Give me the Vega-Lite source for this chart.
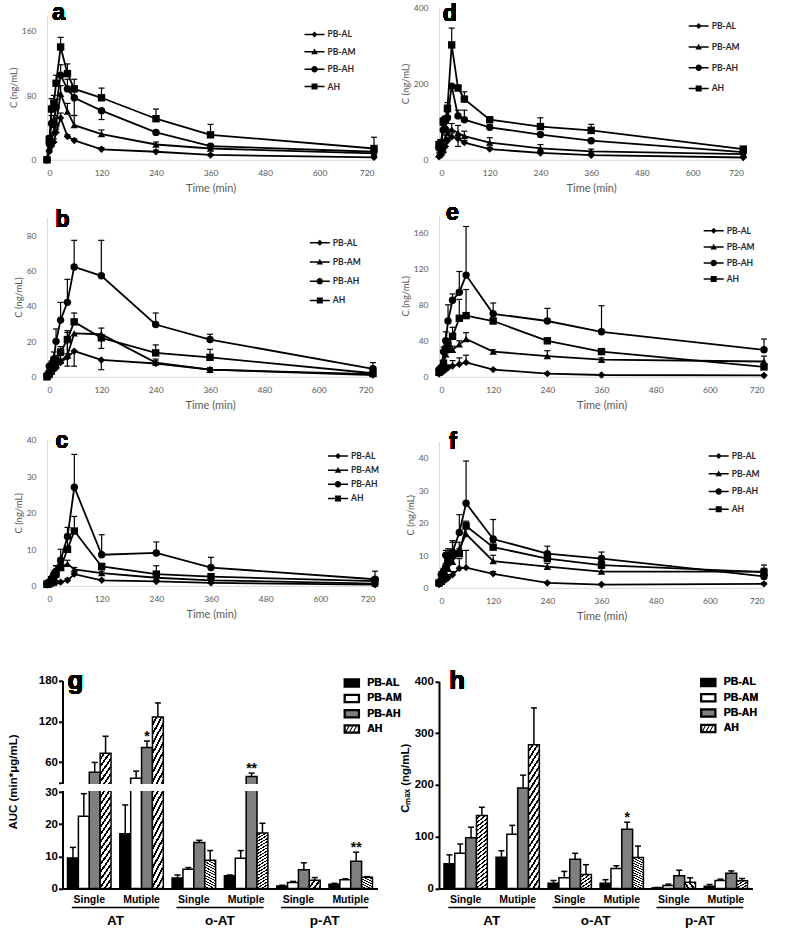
{
"$schema": "https://vega.github.io/schema/vega-lite/v6.json",
"background": "white",
"padding": {"left": 7, "top": 0.8, "right": 0, "bottom": 0},
"datasets": {
"a": [
{"s":"PB-AL","t":0,"c":0,"hi":0},{"s":"PB-AL","t":5,"c":10,"hi":12},{"s":"PB-AL","t":10,"c":17,"hi":20},{"s":"PB-AL","t":15,"c":22,"hi":26},{"s":"PB-AL","t":20,"c":34,"hi":38},{"s":"PB-AL","t":30,"c":52,"hi":58},{"s":"PB-AL","t":45,"c":29,"hi":31},{"s":"PB-AL","t":60,"c":24,"hi":26},{"s":"PB-AL","t":120,"c":13,"hi":15},{"s":"PB-AL","t":240,"c":10,"hi":12},{"s":"PB-AL","t":360,"c":6,"hi":7},{"s":"PB-AL","t":720,"c":3,"hi":4},
{"s":"PB-AM","t":0,"c":0,"hi":0},{"s":"PB-AM","t":5,"c":15,"hi":18},{"s":"PB-AM","t":10,"c":25,"hi":30},{"s":"PB-AM","t":15,"c":35,"hi":40},{"s":"PB-AM","t":20,"c":45,"hi":52},{"s":"PB-AM","t":30,"c":82,"hi":92},{"s":"PB-AM","t":45,"c":60,"hi":70},{"s":"PB-AM","t":60,"c":43,"hi":55},{"s":"PB-AM","t":120,"c":32,"hi":37},{"s":"PB-AM","t":240,"c":19,"hi":22},{"s":"PB-AM","t":360,"c":14,"hi":16},{"s":"PB-AM","t":720,"c":8,"hi":10},
{"s":"PB-AH","t":0,"c":0,"hi":0},{"s":"PB-AH","t":5,"c":20,"hi":26},{"s":"PB-AH","t":10,"c":45,"hi":55},{"s":"PB-AH","t":15,"c":47,"hi":55},{"s":"PB-AH","t":20,"c":65,"hi":75},{"s":"PB-AH","t":30,"c":105,"hi":118},{"s":"PB-AH","t":45,"c":88,"hi":100},{"s":"PB-AH","t":60,"c":77,"hi":92,"lo":55},{"s":"PB-AH","t":120,"c":61,"hi":61,"lo":50},{"s":"PB-AH","t":240,"c":34,"hi":36},{"s":"PB-AH","t":360,"c":17,"hi":19},{"s":"PB-AH","t":720,"c":10,"hi":12},
{"s":"AH","t":0,"c":0,"hi":0},{"s":"AH","t":5,"c":25,"hi":30},{"s":"AH","t":10,"c":63,"hi":76},{"s":"AH","t":15,"c":70,"hi":80},{"s":"AH","t":20,"c":95,"hi":105},{"s":"AH","t":30,"c":140,"hi":152},{"s":"AH","t":45,"c":107,"hi":119},{"s":"AH","t":60,"c":88,"hi":100},{"s":"AH","t":120,"c":77,"hi":89},{"s":"AH","t":240,"c":51,"hi":63},{"s":"AH","t":360,"c":31,"hi":44},{"s":"AH","t":720,"c":14,"hi":28}
],
"d": [
{"s":"PB-AL","t":0,"c":8,"hi":10},{"s":"PB-AL","t":5,"c":12,"hi":15},{"s":"PB-AL","t":10,"c":20,"hi":25},{"s":"PB-AL","t":15,"c":35,"hi":42},{"s":"PB-AL","t":20,"c":50,"hi":58},{"s":"PB-AL","t":30,"c":60,"hi":70},{"s":"PB-AL","t":45,"c":55,"hi":62},{"s":"PB-AL","t":60,"c":45,"hi":50},{"s":"PB-AL","t":120,"c":28,"hi":33},{"s":"PB-AL","t":240,"c":18,"hi":22},{"s":"PB-AL","t":360,"c":12,"hi":15},{"s":"PB-AL","t":720,"c":6,"hi":8},
{"s":"PB-AM","t":0,"c":15,"hi":18},{"s":"PB-AM","t":5,"c":25,"hi":30},{"s":"PB-AM","t":10,"c":40,"hi":48},{"s":"PB-AM","t":15,"c":55,"hi":65},{"s":"PB-AM","t":20,"c":70,"hi":80},{"s":"PB-AM","t":30,"c":80,"hi":95},{"s":"PB-AM","t":45,"c":70,"hi":90,"lo":35},{"s":"PB-AM","t":60,"c":62,"hi":75},{"s":"PB-AM","t":120,"c":45,"hi":58},{"s":"PB-AM","t":240,"c":30,"hi":40},{"s":"PB-AM","t":360,"c":22,"hi":28},{"s":"PB-AM","t":720,"c":15,"hi":18},
{"s":"PB-AH","t":0,"c":30,"hi":35},{"s":"PB-AH","t":5,"c":40,"hi":48},{"s":"PB-AH","t":10,"c":78,"hi":90},{"s":"PB-AH","t":15,"c":80,"hi":95},{"s":"PB-AH","t":20,"c":110,"hi":125},{"s":"PB-AH","t":30,"c":193,"hi":196},{"s":"PB-AH","t":45,"c":115,"hi":130},{"s":"PB-AH","t":60,"c":105,"hi":130},{"s":"PB-AH","t":120,"c":85,"hi":92},{"s":"PB-AH","t":240,"c":66,"hi":72},{"s":"PB-AH","t":360,"c":50,"hi":55},{"s":"PB-AH","t":720,"c":20,"hi":23},
{"s":"AH","t":0,"c":40,"hi":45},{"s":"AH","t":5,"c":45,"hi":52},{"s":"AH","t":10,"c":100,"hi":110},{"s":"AH","t":15,"c":105,"hi":115},{"s":"AH","t":20,"c":135,"hi":150},{"s":"AH","t":30,"c":301,"hi":345},{"s":"AH","t":45,"c":188,"hi":195},{"s":"AH","t":60,"c":159,"hi":178},{"s":"AH","t":120,"c":105,"hi":110},{"s":"AH","t":240,"c":87,"hi":110},{"s":"AH","t":360,"c":77,"hi":93},{"s":"AH","t":720,"c":28,"hi":32}
],
"b": [
{"s":"PB-AL","t":0,"c":0,"hi":0},{"s":"PB-AL","t":5,"c":1,"hi":1.5},{"s":"PB-AL","t":10,"c":2,"hi":3},{"s":"PB-AL","t":15,"c":4,"hi":5},{"s":"PB-AL","t":20,"c":5,"hi":7},{"s":"PB-AL","t":30,"c":8,"hi":10},{"s":"PB-AL","t":45,"c":11,"hi":13},{"s":"PB-AL","t":60,"c":14.5,"hi":14.5,"lo":6},{"s":"PB-AL","t":120,"c":9.5,"hi":9.5,"lo":4},{"s":"PB-AL","t":240,"c":7.5,"hi":9},{"s":"PB-AL","t":360,"c":4,"hi":5},{"s":"PB-AL","t":720,"c":1,"hi":1.5},
{"s":"PB-AM","t":0,"c":0,"hi":0},{"s":"PB-AM","t":5,"c":1,"hi":1.5},{"s":"PB-AM","t":10,"c":3,"hi":4},{"s":"PB-AM","t":15,"c":6,"hi":8},{"s":"PB-AM","t":20,"c":7,"hi":9},{"s":"PB-AM","t":30,"c":9,"hi":12},{"s":"PB-AM","t":45,"c":12,"hi":26},{"s":"PB-AM","t":60,"c":24.5,"hi":24.5},{"s":"PB-AM","t":120,"c":24,"hi":27.5},{"s":"PB-AM","t":240,"c":8,"hi":10},{"s":"PB-AM","t":360,"c":4,"hi":5},{"s":"PB-AM","t":720,"c":1.5,"hi":2},
{"s":"PB-AH","t":0,"c":1,"hi":1},{"s":"PB-AH","t":5,"c":6,"hi":7},{"s":"PB-AH","t":10,"c":7,"hi":9},{"s":"PB-AH","t":15,"c":10,"hi":14},{"s":"PB-AH","t":20,"c":20,"hi":27},{"s":"PB-AH","t":30,"c":32,"hi":42},{"s":"PB-AH","t":45,"c":42,"hi":55},{"s":"PB-AH","t":60,"c":62,"hi":77},{"s":"PB-AH","t":120,"c":57,"hi":77},{"s":"PB-AH","t":240,"c":29.5,"hi":36},{"s":"PB-AH","t":360,"c":21,"hi":24},{"s":"PB-AH","t":720,"c":4.5,"hi":8},
{"s":"AH","t":0,"c":0,"hi":0},{"s":"AH","t":5,"c":2,"hi":3},{"s":"AH","t":10,"c":5,"hi":7},{"s":"AH","t":15,"c":8,"hi":10},{"s":"AH","t":20,"c":9,"hi":12},{"s":"AH","t":30,"c":14,"hi":17},{"s":"AH","t":45,"c":21,"hi":25,"lo":6},{"s":"AH","t":60,"c":31,"hi":36},{"s":"AH","t":120,"c":22,"hi":22,"lo":16},{"s":"AH","t":240,"c":13.5,"hi":18},{"s":"AH","t":360,"c":11,"hi":15.5},{"s":"AH","t":720,"c":2,"hi":3}
],
"e": [
{"s":"PB-AL","t":0,"c":3,"hi":4},{"s":"PB-AL","t":5,"c":5,"hi":6},{"s":"PB-AL","t":10,"c":6,"hi":8},{"s":"PB-AL","t":15,"c":8,"hi":10},{"s":"PB-AL","t":20,"c":10,"hi":13},{"s":"PB-AL","t":30,"c":12,"hi":18},{"s":"PB-AL","t":45,"c":14,"hi":21},{"s":"PB-AL","t":60,"c":16,"hi":24},{"s":"PB-AL","t":120,"c":8,"hi":9},{"s":"PB-AL","t":240,"c":3.5,"hi":4},{"s":"PB-AL","t":360,"c":2,"hi":2.5},{"s":"PB-AL","t":720,"c":1.5,"hi":2},
{"s":"PB-AM","t":0,"c":5,"hi":6},{"s":"PB-AM","t":5,"c":8,"hi":10},{"s":"PB-AM","t":10,"c":12,"hi":15},{"s":"PB-AM","t":15,"c":25,"hi":30},{"s":"PB-AM","t":20,"c":30,"hi":35},{"s":"PB-AM","t":30,"c":30,"hi":34},{"s":"PB-AM","t":45,"c":36,"hi":40},{"s":"PB-AM","t":60,"c":42,"hi":49},{"s":"PB-AM","t":120,"c":28,"hi":30},{"s":"PB-AM","t":240,"c":23,"hi":29},{"s":"PB-AM","t":360,"c":19,"hi":21},{"s":"PB-AM","t":720,"c":17,"hi":23},
{"s":"PB-AH","t":0,"c":8,"hi":10},{"s":"PB-AH","t":5,"c":10,"hi":13},{"s":"PB-AH","t":10,"c":28,"hi":33},{"s":"PB-AH","t":15,"c":40,"hi":50},{"s":"PB-AH","t":20,"c":62,"hi":80},{"s":"PB-AH","t":30,"c":85,"hi":92},{"s":"PB-AH","t":45,"c":94,"hi":117},{"s":"PB-AH","t":60,"c":113,"hi":167},{"s":"PB-AH","t":120,"c":70,"hi":82},{"s":"PB-AH","t":240,"c":62,"hi":76},{"s":"PB-AH","t":360,"c":50,"hi":79},{"s":"PB-AH","t":720,"c":30,"hi":42},
{"s":"AH","t":0,"c":5,"hi":6},{"s":"AH","t":5,"c":8,"hi":10},{"s":"AH","t":10,"c":15,"hi":18},{"s":"AH","t":15,"c":30,"hi":35},{"s":"AH","t":20,"c":35,"hi":42},{"s":"AH","t":30,"c":45,"hi":55},{"s":"AH","t":45,"c":65,"hi":86},{"s":"AH","t":60,"c":68,"hi":97},{"s":"AH","t":120,"c":62,"hi":65},{"s":"AH","t":240,"c":40,"hi":42},{"s":"AH","t":360,"c":28,"hi":30},{"s":"AH","t":720,"c":11,"hi":13}
],
"c": [
{"s":"PB-AL","t":0,"c":0.2,"hi":0.2},{"s":"PB-AL","t":5,"c":0.3,"hi":0.4},{"s":"PB-AL","t":10,"c":0.5,"hi":0.6},{"s":"PB-AL","t":15,"c":0.7,"hi":0.9},{"s":"PB-AL","t":20,"c":0.9,"hi":1.1},{"s":"PB-AL","t":30,"c":1,"hi":1.3},{"s":"PB-AL","t":45,"c":1.5,"hi":2},{"s":"PB-AL","t":60,"c":3.2,"hi":4},{"s":"PB-AL","t":120,"c":1.5,"hi":1.8},{"s":"PB-AL","t":240,"c":1.2,"hi":1.4},{"s":"PB-AL","t":360,"c":0.8,"hi":1},{"s":"PB-AL","t":720,"c":0.3,"hi":0.4},
{"s":"PB-AM","t":0,"c":0.3,"hi":0.3},{"s":"PB-AM","t":5,"c":0.5,"hi":0.6},{"s":"PB-AM","t":10,"c":1,"hi":1.3},{"s":"PB-AM","t":15,"c":2,"hi":2.5},{"s":"PB-AM","t":20,"c":3,"hi":4},{"s":"PB-AM","t":30,"c":5,"hi":6},{"s":"PB-AM","t":45,"c":6,"hi":7},{"s":"PB-AM","t":60,"c":4.5,"hi":5},{"s":"PB-AM","t":120,"c":3.5,"hi":4},{"s":"PB-AM","t":240,"c":2.2,"hi":2.6},{"s":"PB-AM","t":360,"c":1.5,"hi":1.8},{"s":"PB-AM","t":720,"c":0.6,"hi":0.8},
{"s":"PB-AH","t":0,"c":0.5,"hi":0.5},{"s":"PB-AH","t":5,"c":1,"hi":1.2},{"s":"PB-AH","t":10,"c":2,"hi":2.5},{"s":"PB-AH","t":15,"c":3,"hi":4},{"s":"PB-AH","t":20,"c":4,"hi":5.5},{"s":"PB-AH","t":30,"c":7,"hi":10},{"s":"PB-AH","t":45,"c":13.5,"hi":16},{"s":"PB-AH","t":60,"c":27,"hi":36},{"s":"PB-AH","t":120,"c":8.5,"hi":14},{"s":"PB-AH","t":240,"c":9,"hi":12},{"s":"PB-AH","t":360,"c":5,"hi":7.8},{"s":"PB-AH","t":720,"c":1.8,"hi":4},
{"s":"AH","t":0,"c":0.5,"hi":0.5},{"s":"AH","t":5,"c":0.8,"hi":1},{"s":"AH","t":10,"c":1.5,"hi":2},{"s":"AH","t":15,"c":2.5,"hi":3.5},{"s":"AH","t":20,"c":3.5,"hi":5.5},{"s":"AH","t":30,"c":5,"hi":6.5},{"s":"AH","t":45,"c":10,"hi":13},{"s":"AH","t":60,"c":15,"hi":19},{"s":"AH","t":120,"c":5.3,"hi":6},{"s":"AH","t":240,"c":3.2,"hi":5.5},{"s":"AH","t":360,"c":2.5,"hi":3},{"s":"AH","t":720,"c":1.3,"hi":1.6}
],
"f": [
{"s":"PB-AL","t":0,"c":1,"hi":1.2},{"s":"PB-AL","t":5,"c":1.5,"hi":2},{"s":"PB-AL","t":10,"c":2,"hi":2.5},{"s":"PB-AL","t":15,"c":2.5,"hi":3},{"s":"PB-AL","t":20,"c":3,"hi":4},{"s":"PB-AL","t":30,"c":4,"hi":5},{"s":"PB-AL","t":45,"c":6,"hi":9},{"s":"PB-AL","t":60,"c":6.2,"hi":11.5},{"s":"PB-AL","t":120,"c":4.3,"hi":5},{"s":"PB-AL","t":240,"c":1.5,"hi":1.8},{"s":"PB-AL","t":360,"c":1,"hi":1.2},{"s":"PB-AL","t":720,"c":1.2,"hi":1.5},
{"s":"PB-AM","t":0,"c":1.5,"hi":2},{"s":"PB-AM","t":5,"c":2,"hi":2.5},{"s":"PB-AM","t":10,"c":3,"hi":4},{"s":"PB-AM","t":15,"c":4.5,"hi":5.5},{"s":"PB-AM","t":20,"c":6,"hi":7.5},{"s":"PB-AM","t":30,"c":8,"hi":10},{"s":"PB-AM","t":45,"c":12,"hi":14},{"s":"PB-AM","t":60,"c":16.5,"hi":20},{"s":"PB-AM","t":120,"c":8.2,"hi":10},{"s":"PB-AM","t":240,"c":6.5,"hi":7.5},{"s":"PB-AM","t":360,"c":5,"hi":6},{"s":"PB-AM","t":720,"c":5,"hi":6},
{"s":"PB-AH","t":0,"c":1.5,"hi":2},{"s":"PB-AH","t":5,"c":4,"hi":5},{"s":"PB-AH","t":10,"c":5,"hi":6},{"s":"PB-AH","t":15,"c":10,"hi":11.5},{"s":"PB-AH","t":20,"c":10,"hi":12},{"s":"PB-AH","t":30,"c":11,"hi":14},{"s":"PB-AH","t":45,"c":17,"hi":22.5},{"s":"PB-AH","t":60,"c":26,"hi":39},{"s":"PB-AH","t":120,"c":15,"hi":21},{"s":"PB-AH","t":240,"c":10.5,"hi":12.8},{"s":"PB-AH","t":360,"c":9,"hi":11},{"s":"PB-AH","t":720,"c":3.5,"hi":7},
{"s":"AH","t":0,"c":1.5,"hi":2},{"s":"AH","t":5,"c":2,"hi":2.5},{"s":"AH","t":10,"c":4,"hi":5},{"s":"AH","t":15,"c":6,"hi":7.5},{"s":"AH","t":20,"c":8,"hi":10},{"s":"AH","t":30,"c":10,"hi":14.5},{"s":"AH","t":45,"c":10.5,"hi":12},{"s":"AH","t":60,"c":19,"hi":20.5},{"s":"AH","t":120,"c":12.5,"hi":14},{"s":"AH","t":240,"c":9,"hi":10},{"s":"AH","t":360,"c":7,"hi":8},{"s":"AH","t":720,"c":4.8,"hi":5.5}
],
"auc": [
{"k":"AT Single","s":"PB-AL","v":9.5,"hi":12.8},{"k":"AT Single","s":"PB-AM","v":22.5,"hi":29.5},{"k":"AT Single","s":"PB-AH","v":45,"hi":59.5},{"k":"AT Single","s":"AH","v":73,"hi":98},
{"k":"AT Mutiple","s":"PB-AL","v":17,"hi":26},{"k":"AT Mutiple","s":"PB-AM","v":36.4,"hi":46.7},{"k":"AT Mutiple","s":"PB-AH","v":81.6,"hi":91,"sig":"*"},{"k":"AT Mutiple","s":"AH","v":126.4,"hi":147},
{"k":"o-AT Single","s":"PB-AL","v":3.3,"hi":4.2},{"k":"o-AT Single","s":"PB-AM","v":6,"hi":6.5},{"k":"o-AT Single","s":"PB-AH","v":14.3,"hi":15},{"k":"o-AT Single","s":"AH","v":8.8,"hi":11.8},
{"k":"o-AT Mutiple","s":"PB-AL","v":4,"hi":4.2},{"k":"o-AT Mutiple","s":"PB-AM","v":9.4,"hi":11.8},{"k":"o-AT Mutiple","s":"PB-AH","v":38.8,"hi":43.8,"sig":"**"},{"k":"o-AT Mutiple","s":"AH","v":17.3,"hi":20.3},
{"k":"p-AT Single","s":"PB-AL","v":0.8,"hi":1},{"k":"p-AT Single","s":"PB-AM","v":1.9,"hi":2.2},{"k":"p-AT Single","s":"PB-AH","v":5.8,"hi":8},{"k":"p-AT Single","s":"AH","v":2.6,"hi":3.4},
{"k":"p-AT Mutiple","s":"PB-AL","v":1.3,"hi":1.6},{"k":"p-AT Mutiple","s":"PB-AM","v":2.7,"hi":3},{"k":"p-AT Mutiple","s":"PB-AH","v":8.5,"hi":11.3,"sig":"**"},{"k":"p-AT Mutiple","s":"AH","v":3.5,"hi":3.7}
],
"cmax": [
{"k":"AT Single","s":"PB-AL","v":47.7,"hi":65},{"k":"AT Single","s":"PB-AM","v":68,"hi":86},{"k":"AT Single","s":"PB-AH","v":98,"hi":118.5},{"k":"AT Single","s":"AH","v":141,"hi":157},
{"k":"AT Mutiple","s":"PB-AL","v":60.5,"hi":73},{"k":"AT Mutiple","s":"PB-AM","v":105,"hi":122},{"k":"AT Mutiple","s":"PB-AH","v":194,"hi":219},{"k":"AT Mutiple","s":"AH","v":277.6,"hi":349},
{"k":"o-AT Single","s":"PB-AL","v":10.3,"hi":15.5},{"k":"o-AT Single","s":"PB-AM","v":20.6,"hi":33},{"k":"o-AT Single","s":"PB-AH","v":56.7,"hi":68},{"k":"o-AT Single","s":"AH","v":27,"hi":46},
{"k":"o-AT Mutiple","s":"PB-AL","v":10.3,"hi":17},{"k":"o-AT Mutiple","s":"PB-AM","v":38.6,"hi":44},{"k":"o-AT Mutiple","s":"PB-AH","v":114.6,"hi":128,"sig":"*"},{"k":"o-AT Mutiple","s":"AH","v":60,"hi":82},
{"k":"p-AT Single","s":"PB-AL","v":1.3,"hi":2},{"k":"p-AT Single","s":"PB-AM","v":5.8,"hi":8.4},{"k":"p-AT Single","s":"PB-AH","v":24.5,"hi":35.4},{"k":"p-AT Single","s":"AH","v":12.2,"hi":20.6},
{"k":"p-AT Mutiple","s":"PB-AL","v":4.5,"hi":7.7},{"k":"p-AT Mutiple","s":"PB-AM","v":15.5,"hi":18},{"k":"p-AT Mutiple","s":"PB-AH","v":29.6,"hi":34},{"k":"p-AT Mutiple","s":"AH","v":14.8,"hi":19.3}
],
"doses": [
{"k":"AT Single","d":"Single"},{"k":"AT Mutiple","d":"Mutiple"},{"k":"o-AT Single","d":"Single"},{"k":"o-AT Mutiple","d":"Mutiple"},{"k":"p-AT Single","d":"Single"},{"k":"p-AT Mutiple","d":"Mutiple"}
],
"groups": [
{"g":"AT","f":"AT Single","l":"AT Mutiple"},{"g":"o-AT","f":"o-AT Single","l":"o-AT Mutiple"},{"g":"p-AT","f":"p-AT Single","l":"p-AT Mutiple"}
]
},
"columns": 2,
"bounds": "flush",
"align": "each",
"spacing": {"row": 20, "column": 61},
"resolve": {"scale": {"shape": "independent", "fill": "independent", "xOffset": "independent"}, "legend": {"shape": "independent", "fill": "independent"}},
"concat": [
{"width":327,"height":153,
"data":{"name":"a"},
"encoding":{"x":{"field":"t","type":"quantitative","scale":{"domain":[0,720],"nice":false},"axis":{"values":[0,120,240,360,480,600,720],"title":"Time (min)"}}},
"layer":[
{"mark":{"type":"line","color":"black","strokeWidth":1.8},"encoding":{"y":{"field":"c","type":"quantitative","scale":{"domain":[0,180],"range":[153,8],"nice":false},"axis":{"values":[0,20,40,60,80,100,120,140,160,180],"title":"C (ng/mL)","labelOverlap":false}},"detail":{"field":"s"}}},
{"mark":{"type":"rule","color":"black","strokeWidth":1.2},"encoding":{"y":{"field":"c","type":"quantitative"},"y2":{"field":"hi"}}},
{"transform":[{"filter":"isValid(datum.lo)"}],"mark":{"type":"rule","color":"black","strokeWidth":1.2},"encoding":{"y":{"field":"lo","type":"quantitative"},"y2":{"field":"c"}}},
{"transform":[{"filter":"datum.hi > datum.c"}],"mark":{"type":"point","shape":"stroke","size":36,"filled":false,"color":"black","strokeWidth":1.2,"opacity":1},"encoding":{"y":{"field":"hi","type":"quantitative"}}},
{"transform":[{"filter":"isValid(datum.lo)"}],"mark":{"type":"point","shape":"stroke","size":36,"filled":false,"color":"black","strokeWidth":1.2,"opacity":1},"encoding":{"y":{"field":"lo","type":"quantitative"}}},
{"mark":{"type":"point","filled":true,"color":"black","opacity":1,"size":55},"encoding":{"y":{"field":"c","type":"quantitative"},"shape":{"field":"s","type":"nominal","scale":{"domain":["PB-AL","PB-AM","PB-AH","AH"],"range":["diamond","triangle-up","circle","square"]},"legend":null}}},
{"mark":{"type":"text","text":"a","font":"Liberation Sans","fontSize":23,"fontWeight":"bold","align":"left","baseline":"alphabetic"},"encoding":{"x":{"datum":11.4},"y":{"datum":173.8}}},
{"transform":[{"filter":"false"}],"mark":{"type":"point","filled":true,"color":"black","opacity":1,"size":100},"encoding":{"shape":{"field":"s","type":"nominal","scale":{"domain":["PB-AL","PB-AM","PB-AH","AH"],"range":["M-2,-0.15H2V0.15H-2Z M0,-0.6L0.6,0L0,0.6L-0.6,0Z","M-2,-0.15H2V0.15H-2Z M0,-0.65L0.65,0.5L-0.65,0.5Z","M-2,-0.15H2V0.15H-2Z M-0.65,0A0.65,0.65 0 1,1 0.65,0A0.65,0.65 0 1,1 -0.65,0Z","M-2,-0.15H2V0.15H-2Z M-0.6,-0.6H0.6V0.6H-0.6Z"]},"legend":{"orient":"none","legendX":261.5,"legendY":21.6,"rowPadding":4.4,"title":null}}}}
],
"resolve":{"scale":{"shape":"independent"},"legend":{"shape":"independent"}}},
{"width":304.3,"height":153,
"data":{"name":"d"},
"encoding":{"x":{"field":"t","type":"quantitative","scale":{"domain":[0,720],"nice":false},"axis":{"values":[0,120,240,360,480,600,720],"title":"Time (min)"}}},
"layer":[
{"mark":{"type":"line","color":"black","strokeWidth":1.8},"encoding":{"y":{"field":"c","type":"quantitative","scale":{"domain":[0,400],"range":[153,0.3],"nice":false},"axis":{"values":[0,50,100,150,200,250,300,350,400],"title":"C (ng/mL)","labelOverlap":false}},"detail":{"field":"s"}}},
{"mark":{"type":"rule","color":"black","strokeWidth":1.2},"encoding":{"y":{"field":"c","type":"quantitative"},"y2":{"field":"hi"}}},
{"transform":[{"filter":"isValid(datum.lo)"}],"mark":{"type":"rule","color":"black","strokeWidth":1.2},"encoding":{"y":{"field":"lo","type":"quantitative"},"y2":{"field":"c"}}},
{"transform":[{"filter":"datum.hi > datum.c"}],"mark":{"type":"point","shape":"stroke","size":36,"filled":false,"color":"black","strokeWidth":1.2,"opacity":1},"encoding":{"y":{"field":"hi","type":"quantitative"}}},
{"transform":[{"filter":"isValid(datum.lo)"}],"mark":{"type":"point","shape":"stroke","size":36,"filled":false,"color":"black","strokeWidth":1.2,"opacity":1},"encoding":{"y":{"field":"lo","type":"quantitative"}}},
{"mark":{"type":"point","filled":true,"color":"black","opacity":1,"size":55},"encoding":{"y":{"field":"c","type":"quantitative"},"shape":{"field":"s","type":"nominal","scale":{"domain":["PB-AL","PB-AM","PB-AH","AH"],"range":["diamond","triangle-up","circle","square"]},"legend":null}}},
{"mark":{"type":"text","text":"d","font":"Liberation Sans","fontSize":23,"fontWeight":"bold","align":"left","baseline":"alphabetic"},"encoding":{"x":{"datum":8.75},"y":{"datum":364.8}}},
{"transform":[{"filter":"false"}],"mark":{"type":"point","filled":true,"color":"black","opacity":1,"size":100},"encoding":{"shape":{"field":"s","type":"nominal","scale":{"domain":["PB-AL","PB-AM","PB-AH","AH"],"range":["M-2,-0.15H2V0.15H-2Z M0,-0.6L0.6,0L0,0.6L-0.6,0Z","M-2,-0.15H2V0.15H-2Z M0,-0.65L0.65,0.5L-0.65,0.5Z","M-2,-0.15H2V0.15H-2Z M-0.65,0A0.65,0.65 0 1,1 0.65,0A0.65,0.65 0 1,1 -0.65,0Z","M-2,-0.15H2V0.15H-2Z M-0.6,-0.6H0.6V0.6H-0.6Z"]},"legend":{"orient":"none","legendX":253.7,"legendY":13.3,"rowPadding":7.8,"title":null}}}}
],
"resolve":{"scale":{"shape":"independent"},"legend":{"shape":"independent"}}},
{"width":326,"height":197,
"data":{"name":"b"},
"encoding":{"x":{"field":"t","type":"quantitative","scale":{"domain":[0,720],"nice":false},"axis":{"values":[0,120,240,360,480,600,720],"title":"Time (min)"}}},
"layer":[
{"mark":{"type":"line","color":"black","strokeWidth":1.8},"encoding":{"y":{"field":"c","type":"quantitative","scale":{"domain":[0,90],"range":[197,37.5],"nice":false},"axis":{"values":[0,10,20,30,40,50,60,70,80,90],"title":"C (ng/mL)","labelOverlap":false}},"detail":{"field":"s"}}},
{"mark":{"type":"rule","color":"black","strokeWidth":1.2},"encoding":{"y":{"field":"c","type":"quantitative"},"y2":{"field":"hi"}}},
{"transform":[{"filter":"isValid(datum.lo)"}],"mark":{"type":"rule","color":"black","strokeWidth":1.2},"encoding":{"y":{"field":"lo","type":"quantitative"},"y2":{"field":"c"}}},
{"transform":[{"filter":"datum.hi > datum.c"}],"mark":{"type":"point","shape":"stroke","size":36,"filled":false,"color":"black","strokeWidth":1.2,"opacity":1},"encoding":{"y":{"field":"hi","type":"quantitative"}}},
{"transform":[{"filter":"isValid(datum.lo)"}],"mark":{"type":"point","shape":"stroke","size":36,"filled":false,"color":"black","strokeWidth":1.2,"opacity":1},"encoding":{"y":{"field":"lo","type":"quantitative"}}},
{"mark":{"type":"point","filled":true,"color":"black","opacity":1,"size":55},"encoding":{"y":{"field":"c","type":"quantitative"},"shape":{"field":"s","type":"nominal","scale":{"domain":["PB-AL","PB-AM","PB-AH","AH"],"range":["diamond","triangle-up","circle","square"]},"legend":null}}},
{"mark":{"type":"text","text":"b","font":"Liberation Sans","fontSize":23,"fontWeight":"bold","align":"left","baseline":"alphabetic"},"encoding":{"x":{"datum":18.8},"y":{"datum":84.5}}},
{"transform":[{"filter":"false"}],"mark":{"type":"point","filled":true,"color":"black","opacity":1,"size":100},"encoding":{"shape":{"field":"s","type":"nominal","scale":{"domain":["PB-AL","PB-AM","PB-AH","AH"],"range":["M-2,-0.15H2V0.15H-2Z M0,-0.6L0.6,0L0,0.6L-0.6,0Z","M-2,-0.15H2V0.15H-2Z M0,-0.65L0.65,0.5L-0.65,0.5Z","M-2,-0.15H2V0.15H-2Z M-0.65,0A0.65,0.65 0 1,1 0.65,0A0.65,0.65 0 1,1 -0.65,0Z","M-2,-0.15H2V0.15H-2Z M-0.6,-0.6H0.6V0.6H-0.6Z"]},"legend":{"orient":"none","legendX":266.8,"legendY":57,"rowPadding":6.2,"title":null}}}}
],
"resolve":{"scale":{"shape":"independent"},"legend":{"shape":"independent"}}},
{"width":325,"height":197,
"data":{"name":"e"},
"encoding":{"x":{"field":"t","type":"quantitative","scale":{"domain":[0,720],"nice":false},"axis":{"values":[0,120,240,360,480,600,720],"title":"Time (min)"}}},
"layer":[
{"mark":{"type":"line","color":"black","strokeWidth":1.8},"encoding":{"y":{"field":"c","type":"quantitative","scale":{"domain":[0,180],"range":[197,35],"nice":false},"axis":{"values":[0,20,40,60,80,100,120,140,160,180],"title":"C (ng/mL)","labelOverlap":false}},"detail":{"field":"s"}}},
{"mark":{"type":"rule","color":"black","strokeWidth":1.2},"encoding":{"y":{"field":"c","type":"quantitative"},"y2":{"field":"hi"}}},
{"transform":[{"filter":"isValid(datum.lo)"}],"mark":{"type":"rule","color":"black","strokeWidth":1.2},"encoding":{"y":{"field":"lo","type":"quantitative"},"y2":{"field":"c"}}},
{"transform":[{"filter":"datum.hi > datum.c"}],"mark":{"type":"point","shape":"stroke","size":36,"filled":false,"color":"black","strokeWidth":1.2,"opacity":1},"encoding":{"y":{"field":"hi","type":"quantitative"}}},
{"transform":[{"filter":"isValid(datum.lo)"}],"mark":{"type":"point","shape":"stroke","size":36,"filled":false,"color":"black","strokeWidth":1.2,"opacity":1},"encoding":{"y":{"field":"lo","type":"quantitative"}}},
{"mark":{"type":"point","filled":true,"color":"black","opacity":1,"size":55},"encoding":{"y":{"field":"c","type":"quantitative"},"shape":{"field":"s","type":"nominal","scale":{"domain":["PB-AL","PB-AM","PB-AH","AH"],"range":["diamond","triangle-up","circle","square"]},"legend":null}}},
{"mark":{"type":"text","text":"e","font":"Liberation Sans","fontSize":23,"fontWeight":"bold","align":"left","baseline":"alphabetic"},"encoding":{"x":{"datum":15.5},"y":{"datum":174.4}}},
{"transform":[{"filter":"false"}],"mark":{"type":"point","filled":true,"color":"black","opacity":1,"size":100},"encoding":{"shape":{"field":"s","type":"nominal","scale":{"domain":["PB-AL","PB-AM","PB-AH","AH"],"range":["M-2,-0.15H2V0.15H-2Z M0,-0.6L0.6,0L0,0.6L-0.6,0Z","M-2,-0.15H2V0.15H-2Z M0,-0.65L0.65,0.5L-0.65,0.5Z","M-2,-0.15H2V0.15H-2Z M-0.65,0A0.65,0.65 0 1,1 0.65,0A0.65,0.65 0 1,1 -0.65,0Z","M-2,-0.15H2V0.15H-2Z M-0.6,-0.6H0.6V0.6H-0.6Z"]},"legend":{"orient":"none","legendX":268.7,"legendY":45,"rowPadding":3.1,"title":null}}}}
],
"resolve":{"scale":{"shape":"independent"},"legend":{"shape":"independent"}}},
{"width":328,"height":189,
"data":{"name":"c"},
"encoding":{"x":{"field":"t","type":"quantitative","scale":{"domain":[0,720],"nice":false},"axis":{"values":[0,120,240,360,480,600,720],"title":"Time (min)"}}},
"layer":[
{"mark":{"type":"line","color":"black","strokeWidth":1.8},"encoding":{"y":{"field":"c","type":"quantitative","scale":{"domain":[0,40],"range":[189,43],"nice":false},"axis":{"values":[0,5,10,15,20,25,30,35,40],"title":"C (ng/mL)","labelOverlap":false}},"detail":{"field":"s"}}},
{"mark":{"type":"rule","color":"black","strokeWidth":1.2},"encoding":{"y":{"field":"c","type":"quantitative"},"y2":{"field":"hi"}}},
{"transform":[{"filter":"isValid(datum.lo)"}],"mark":{"type":"rule","color":"black","strokeWidth":1.2},"encoding":{"y":{"field":"lo","type":"quantitative"},"y2":{"field":"c"}}},
{"transform":[{"filter":"datum.hi > datum.c"}],"mark":{"type":"point","shape":"stroke","size":36,"filled":false,"color":"black","strokeWidth":1.2,"opacity":1},"encoding":{"y":{"field":"hi","type":"quantitative"}}},
{"transform":[{"filter":"isValid(datum.lo)"}],"mark":{"type":"point","shape":"stroke","size":36,"filled":false,"color":"black","strokeWidth":1.2,"opacity":1},"encoding":{"y":{"field":"lo","type":"quantitative"}}},
{"mark":{"type":"point","filled":true,"color":"black","opacity":1,"size":55},"encoding":{"y":{"field":"c","type":"quantitative"},"shape":{"field":"s","type":"nominal","scale":{"domain":["PB-AL","PB-AM","PB-AH","AH"],"range":["diamond","triangle-up","circle","square"]},"legend":null}}},
{"mark":{"type":"text","text":"c","font":"Liberation Sans","fontSize":23,"fontWeight":"bold","align":"left","baseline":"alphabetic"},"encoding":{"x":{"datum":18.7},"y":{"datum":37.7}}},
{"transform":[{"filter":"false"}],"mark":{"type":"point","filled":true,"color":"black","opacity":1,"size":100},"encoding":{"shape":{"field":"s","type":"nominal","scale":{"domain":["PB-AL","PB-AM","PB-AH","AH"],"range":["M-2,-0.15H2V0.15H-2Z M0,-0.6L0.6,0L0,0.6L-0.6,0Z","M-2,-0.15H2V0.15H-2Z M0,-0.65L0.65,0.5L-0.65,0.5Z","M-2,-0.15H2V0.15H-2Z M-0.65,0A0.65,0.65 0 1,1 0.65,0A0.65,0.65 0 1,1 -0.65,0Z","M-2,-0.15H2V0.15H-2Z M-0.6,-0.6H0.6V0.6H-0.6Z"]},"legend":{"orient":"none","legendX":285,"legendY":53.3,"rowPadding":1.1,"title":null}}}}
],
"resolve":{"scale":{"shape":"independent"},"legend":{"shape":"independent"}}},
{"width":325,"height":191,
"data":{"name":"f"},
"encoding":{"x":{"field":"t","type":"quantitative","scale":{"domain":[0,720],"nice":false},"axis":{"values":[0,120,240,360,480,600,720],"title":"Time (min)"}}},
"layer":[
{"mark":{"type":"line","color":"black","strokeWidth":1.8},"encoding":{"y":{"field":"c","type":"quantitative","scale":{"domain":[0,45],"range":[191,44.7],"nice":false},"axis":{"values":[0,5,10,15,20,25,30,35,40,45],"title":"C (ng/mL)","labelOverlap":false}},"detail":{"field":"s"}}},
{"mark":{"type":"rule","color":"black","strokeWidth":1.2},"encoding":{"y":{"field":"c","type":"quantitative"},"y2":{"field":"hi"}}},
{"transform":[{"filter":"isValid(datum.lo)"}],"mark":{"type":"rule","color":"black","strokeWidth":1.2},"encoding":{"y":{"field":"lo","type":"quantitative"},"y2":{"field":"c"}}},
{"transform":[{"filter":"datum.hi > datum.c"}],"mark":{"type":"point","shape":"stroke","size":36,"filled":false,"color":"black","strokeWidth":1.2,"opacity":1},"encoding":{"y":{"field":"hi","type":"quantitative"}}},
{"transform":[{"filter":"isValid(datum.lo)"}],"mark":{"type":"point","shape":"stroke","size":36,"filled":false,"color":"black","strokeWidth":1.2,"opacity":1},"encoding":{"y":{"field":"lo","type":"quantitative"}}},
{"mark":{"type":"point","filled":true,"color":"black","opacity":1,"size":55},"encoding":{"y":{"field":"c","type":"quantitative"},"shape":{"field":"s","type":"nominal","scale":{"domain":["PB-AL","PB-AM","PB-AH","AH"],"range":["diamond","triangle-up","circle","square"]},"legend":null}}},
{"mark":{"type":"text","text":"f","font":"Liberation Sans","fontSize":23,"fontWeight":"bold","align":"left","baseline":"alphabetic"},"encoding":{"x":{"datum":22.2},"y":{"datum":42.7}}},
{"transform":[{"filter":"false"}],"mark":{"type":"point","filled":true,"color":"black","opacity":1,"size":100},"encoding":{"shape":{"field":"s","type":"nominal","scale":{"domain":["PB-AL","PB-AM","PB-AH","AH"],"range":["M-2,-0.15H2V0.15H-2Z M0,-0.6L0.6,0L0,0.6L-0.6,0Z","M-2,-0.15H2V0.15H-2Z M0,-0.65L0.65,0.5L-0.65,0.5Z","M-2,-0.15H2V0.15H-2Z M-0.65,0A0.65,0.65 0 1,1 0.65,0A0.65,0.65 0 1,1 -0.65,0Z","M-2,-0.15H2V0.15H-2Z M-0.6,-0.6H0.6V0.6H-0.6Z"]},"legend":{"orient":"none","legendX":273.7,"legendY":53.3,"rowPadding":4.7,"title":null}}}}
],
"resolve":{"scale":{"shape":"independent"},"legend":{"shape":"independent"}}},
{"width":330.5,"height":280.7,
"data":{"name":"auc"},
"encoding":{"x":{"field":"k","type":"nominal","scale":{"domain":["AT Single","AT Mutiple","o-AT Single","o-AT Mutiple","p-AT Single","p-AT Mutiple"],"range":[15.5,330.5],"paddingInner":0.168,"paddingOuter":0.096},"axis":{"labels":false,"ticks":false,"title":null,"domainColor":"black","domainWidth":2}}},
"layer":[
{"mark":{"type":"bar","stroke":"black","strokeWidth":1.5},"encoding":{"xOffset":{"field":"s","type":"nominal","scale":{"domain":["PB-AL","PB-AM","PB-AH","AH"],"paddingInner":0,"paddingOuter":0}},"y":{"field":"v","type":"quantitative","scale":{"domain":[0,30,30.0001,180],"range":[280.7,184.3,174.7,72.7],"nice":false,"zero":false},"axis":{"values":[0,10,20,30,30.0001,60,120,180],"labelExpr":"datum.value > 30 && datum.value < 31 ? '' : datum.label","offset":-15.5,"title":"AUC (min*μg/mL)","titleY":173.7,"titleFont":"Liberation Sans","titleFontSize":11.5,"titleFontWeight":"bold","titleColor":"black","titlePadding":20,"domainColor":"black","domainWidth":2,"ticks":true,"tickColor":"black","tickWidth":2,"tickSize":4,"labelFont":"Liberation Sans","labelFontSize":11.5,"labelFontWeight":"bold","labelColor":"black","labelPadding":1,"zindex":0}},
"fill":{"condition":{"test":"datum.s === 'AH'","value":{"gradient":"linear","x1":0,"y1":0,"x2":0.13,"y2":1.1,"stops":[{"offset":0,"color":"white"},{"offset":0.03,"color":"white"},{"offset":0.03,"color":"black"},{"offset":0.05,"color":"black"},{"offset":0.05,"color":"white"},{"offset":0.08,"color":"white"},{"offset":0.08,"color":"black"},{"offset":0.1,"color":"black"},{"offset":0.1,"color":"white"},{"offset":0.13,"color":"white"},{"offset":0.13,"color":"black"},{"offset":0.15,"color":"black"},{"offset":0.15,"color":"white"},{"offset":0.18,"color":"white"},{"offset":0.18,"color":"black"},{"offset":0.2,"color":"black"},{"offset":0.2,"color":"white"},{"offset":0.23,"color":"white"},{"offset":0.23,"color":"black"},{"offset":0.25,"color":"black"},{"offset":0.25,"color":"white"},{"offset":0.28,"color":"white"},{"offset":0.28,"color":"black"},{"offset":0.3,"color":"black"},{"offset":0.3,"color":"white"},{"offset":0.33,"color":"white"},{"offset":0.33,"color":"black"},{"offset":0.35,"color":"black"},{"offset":0.35,"color":"white"},{"offset":0.38,"color":"white"},{"offset":0.38,"color":"black"},{"offset":0.4,"color":"black"},{"offset":0.4,"color":"white"},{"offset":0.43,"color":"white"},{"offset":0.43,"color":"black"},{"offset":0.45,"color":"black"},{"offset":0.45,"color":"white"},{"offset":0.48,"color":"white"},{"offset":0.48,"color":"black"},{"offset":0.5,"color":"black"},{"offset":0.5,"color":"white"},{"offset":0.53,"color":"white"},{"offset":0.53,"color":"black"},{"offset":0.55,"color":"black"},{"offset":0.55,"color":"white"},{"offset":0.58,"color":"white"},{"offset":0.58,"color":"black"},{"offset":0.6,"color":"black"},{"offset":0.6,"color":"white"},{"offset":0.63,"color":"white"},{"offset":0.63,"color":"black"},{"offset":0.65,"color":"black"},{"offset":0.65,"color":"white"},{"offset":0.68,"color":"white"},{"offset":0.68,"color":"black"},{"offset":0.7,"color":"black"},{"offset":0.7,"color":"white"},{"offset":0.73,"color":"white"},{"offset":0.73,"color":"black"},{"offset":0.75,"color":"black"},{"offset":0.75,"color":"white"},{"offset":0.78,"color":"white"},{"offset":0.78,"color":"black"},{"offset":0.8,"color":"black"},{"offset":0.8,"color":"white"},{"offset":0.83,"color":"white"},{"offset":0.83,"color":"black"},{"offset":0.85,"color":"black"},{"offset":0.85,"color":"white"},{"offset":0.88,"color":"white"},{"offset":0.88,"color":"black"},{"offset":0.9,"color":"black"},{"offset":0.9,"color":"white"},{"offset":0.93,"color":"white"},{"offset":0.93,"color":"black"},{"offset":0.95,"color":"black"},{"offset":0.95,"color":"white"},{"offset":0.98,"color":"white"},{"offset":0.98,"color":"black"},{"offset":1,"color":"black"}]}},"field":"s","type":"nominal","scale":{"domain":["PB-AL","PB-AM","PB-AH","AH"],"range":["black","white","#7f7f7f","white"]},
"legend":{"orient":"none","legendX":299.3,"legendY":69.8,"title":null,"symbolType":"M-1.6,-0.85H1.6V0.85H-1.6Z","symbolSize":88,"labelFont":"Liberation Sans","labelFontSize":10.5,"labelFontWeight":"bold","labelColor":"black","labelOffset":10,"rowPadding":0.3}}}},
{"mark":{"type":"rect","fill":"white","yOffset":-1.5,"y2Offset":1.5},"encoding":{"x":{"datum":"AT Single","bandPosition":-0.15},"x2":{"datum":"p-AT Mutiple","bandPosition":1.2},"y":{"datum":30},"y2":{"datum":30.0001}}},
{"mark":{"type":"rule","color":"black","strokeWidth":1.5},"encoding":{"xOffset":{"field":"s","type":"nominal","scale":{"domain":["PB-AL","PB-AM","PB-AH","AH"],"paddingInner":0,"paddingOuter":0}},"y":{"field":"v","type":"quantitative"},"y2":{"field":"hi"}}},
{"mark":{"type":"point","shape":"stroke","size":36,"filled":false,"color":"black","strokeWidth":1.5,"opacity":1},"encoding":{"xOffset":{"field":"s","type":"nominal","scale":{"domain":["PB-AL","PB-AM","PB-AH","AH"],"paddingInner":0,"paddingOuter":0}},"y":{"field":"hi","type":"quantitative"}}},
{"transform":[{"filter":"isValid(datum.sig)"}],"mark":{"type":"text","font":"Liberation Sans","fontSize":14,"fontWeight":"bold","baseline":"alphabetic"},"encoding":{"xOffset":{"field":"s","type":"nominal","scale":{"domain":["PB-AL","PB-AM","PB-AH","AH"],"paddingInner":0,"paddingOuter":0}},"y":{"field":"hi","type":"quantitative"},"text":{"field":"sig"}}},
{"mark":{"type":"text","text":"g","font":"Liberation Sans","fontSize":26,"fontWeight":"bold","align":"left","baseline":"alphabetic"},"encoding":{"x":{"datum":"AT Single","bandPosition":0},"y":{"datum":167.8}}},
{"transform":[{"filter":"false"}],"mark":{"type":"point","filled":true,"color":"black","opacity":1},"encoding":{"shape":{"field":"s","type":"nominal","scale":{"domain":["PB-AL","PB-AM","PB-AH","AH"],"range":["M-1.6,-0.85H1.6V0.85H-1.6Z M-1.28,-0.53V0.53H1.28V-0.53Z","M-1.6,-0.85H1.6V0.85H-1.6Z M-1.28,-0.53V0.53H1.28V-0.53Z","M-1.6,-0.85H1.6V0.85H-1.6Z M-1.28,-0.53V0.53H1.28V-0.53Z","M-1.6,-0.85H1.6V0.85H-1.6Z M-1.28,-0.53V0.53H1.28V-0.53Z M-0.6,-0.85L-0.35,-0.85L-1.25,0.85L-1.5,0.85Z M0.2,-0.85L0.45,-0.85L-0.45,0.85L-0.7,0.85Z M1,-0.85L1.25,-0.85L0.35,0.85L0.1,0.85Z"]},"legend":{"orient":"none","legendX":299.3,"legendY":69.8,"title":null,"symbolSize":88,"labelFont":"Liberation Sans","labelFontSize":10.5,"labelFontWeight":"bold","labelColor":"black","labelOffset":10,"rowPadding":0.3}}}},
{"data":{"name":"doses"},"mark":{"type":"text","font":"Liberation Sans","fontSize":10.5,"fontWeight":"bold","dy":11.5},"encoding":{"x":{"field":"k","type":"nominal"},"y":{"datum":0},"text":{"field":"d"}}},
{"data":{"name":"groups"},"mark":{"type":"rule","color":"black","strokeWidth":1.5,"yOffset":19},"encoding":{"x":{"field":"f","type":"nominal","bandPosition":0.1},"x2":{"field":"l","bandPosition":0.9},"y":{"datum":0}}},
{"data":{"name":"groups"},"mark":{"type":"text","font":"Liberation Sans","fontSize":13.5,"fontWeight":"bold","dy":33},"encoding":{"x":{"field":"f","type":"nominal","bandPosition":1.1},"y":{"datum":0},"text":{"field":"g"}}}
],
"resolve":{"scale":{"shape":"independent"},"legend":{"shape":"independent","fill":"independent"}}},
{"width":313.5,"height":280.7,
"data":{"name":"cmax"},
"encoding":{"x":{"field":"k","type":"nominal","scale":{"domain":["AT Single","AT Mutiple","o-AT Single","o-AT Mutiple","p-AT Single","p-AT Mutiple"],"paddingInner":0.168,"paddingOuter":0.096},"axis":{"labels":false,"ticks":false,"title":null,"domainColor":"black","domainWidth":2}}},
"layer":[
{"mark":{"type":"bar","stroke":"black","strokeWidth":1.5},"encoding":{"xOffset":{"field":"s","type":"nominal","scale":{"domain":["PB-AL","PB-AM","PB-AH","AH"],"paddingInner":0,"paddingOuter":0}},"y":{"field":"v","type":"quantitative","scale":{"domain":[0,400],"range":[280.7,73.7],"nice":false},"axis":{"values":[0,100,200,300,400],"title":"Cₘₐₓ (ng/mL)","titleY":170,"titleFont":"Liberation Sans","titleFontSize":11.5,"titleFontWeight":"bold","titleColor":"black","titlePadding":3.7,"domainColor":"black","domainWidth":2,"ticks":true,"tickColor":"black","tickWidth":2,"tickSize":4,"labelFont":"Liberation Sans","labelFontSize":11.5,"labelFontWeight":"bold","labelColor":"black","labelPadding":1.7}},
"fill":{"condition":{"test":"datum.s === 'AH'","value":{"gradient":"linear","x1":0,"y1":0,"x2":0.13,"y2":1.1,"stops":[{"offset":0,"color":"white"},{"offset":0.03,"color":"white"},{"offset":0.03,"color":"black"},{"offset":0.05,"color":"black"},{"offset":0.05,"color":"white"},{"offset":0.08,"color":"white"},{"offset":0.08,"color":"black"},{"offset":0.1,"color":"black"},{"offset":0.1,"color":"white"},{"offset":0.13,"color":"white"},{"offset":0.13,"color":"black"},{"offset":0.15,"color":"black"},{"offset":0.15,"color":"white"},{"offset":0.18,"color":"white"},{"offset":0.18,"color":"black"},{"offset":0.2,"color":"black"},{"offset":0.2,"color":"white"},{"offset":0.23,"color":"white"},{"offset":0.23,"color":"black"},{"offset":0.25,"color":"black"},{"offset":0.25,"color":"white"},{"offset":0.28,"color":"white"},{"offset":0.28,"color":"black"},{"offset":0.3,"color":"black"},{"offset":0.3,"color":"white"},{"offset":0.33,"color":"white"},{"offset":0.33,"color":"black"},{"offset":0.35,"color":"black"},{"offset":0.35,"color":"white"},{"offset":0.38,"color":"white"},{"offset":0.38,"color":"black"},{"offset":0.4,"color":"black"},{"offset":0.4,"color":"white"},{"offset":0.43,"color":"white"},{"offset":0.43,"color":"black"},{"offset":0.45,"color":"black"},{"offset":0.45,"color":"white"},{"offset":0.48,"color":"white"},{"offset":0.48,"color":"black"},{"offset":0.5,"color":"black"},{"offset":0.5,"color":"white"},{"offset":0.53,"color":"white"},{"offset":0.53,"color":"black"},{"offset":0.55,"color":"black"},{"offset":0.55,"color":"white"},{"offset":0.58,"color":"white"},{"offset":0.58,"color":"black"},{"offset":0.6,"color":"black"},{"offset":0.6,"color":"white"},{"offset":0.63,"color":"white"},{"offset":0.63,"color":"black"},{"offset":0.65,"color":"black"},{"offset":0.65,"color":"white"},{"offset":0.68,"color":"white"},{"offset":0.68,"color":"black"},{"offset":0.7,"color":"black"},{"offset":0.7,"color":"white"},{"offset":0.73,"color":"white"},{"offset":0.73,"color":"black"},{"offset":0.75,"color":"black"},{"offset":0.75,"color":"white"},{"offset":0.78,"color":"white"},{"offset":0.78,"color":"black"},{"offset":0.8,"color":"black"},{"offset":0.8,"color":"white"},{"offset":0.83,"color":"white"},{"offset":0.83,"color":"black"},{"offset":0.85,"color":"black"},{"offset":0.85,"color":"white"},{"offset":0.88,"color":"white"},{"offset":0.88,"color":"black"},{"offset":0.9,"color":"black"},{"offset":0.9,"color":"white"},{"offset":0.93,"color":"white"},{"offset":0.93,"color":"black"},{"offset":0.95,"color":"black"},{"offset":0.95,"color":"white"},{"offset":0.98,"color":"white"},{"offset":0.98,"color":"black"},{"offset":1,"color":"black"}]}},"field":"s","type":"nominal","scale":{"domain":["PB-AL","PB-AM","PB-AH","AH"],"range":["black","white","#7f7f7f","white"]},
"legend":{"orient":"none","legendX":263.8,"legendY":69.2,"title":null,"symbolType":"M-1.6,-0.85H1.6V0.85H-1.6Z","symbolSize":88,"labelFont":"Liberation Sans","labelFontSize":10.5,"labelFontWeight":"bold","labelColor":"black","labelOffset":10,"rowPadding":0.3}}}},
{"mark":{"type":"rule","color":"black","strokeWidth":1.5},"encoding":{"xOffset":{"field":"s","type":"nominal","scale":{"domain":["PB-AL","PB-AM","PB-AH","AH"],"paddingInner":0,"paddingOuter":0}},"y":{"field":"v","type":"quantitative"},"y2":{"field":"hi"}}},
{"mark":{"type":"point","shape":"stroke","size":36,"filled":false,"color":"black","strokeWidth":1.5,"opacity":1},"encoding":{"xOffset":{"field":"s","type":"nominal","scale":{"domain":["PB-AL","PB-AM","PB-AH","AH"],"paddingInner":0,"paddingOuter":0}},"y":{"field":"hi","type":"quantitative"}}},
{"transform":[{"filter":"isValid(datum.sig)"}],"mark":{"type":"text","font":"Liberation Sans","fontSize":14,"fontWeight":"bold","baseline":"alphabetic"},"encoding":{"xOffset":{"field":"s","type":"nominal","scale":{"domain":["PB-AL","PB-AM","PB-AH","AH"],"paddingInner":0,"paddingOuter":0}},"y":{"field":"hi","type":"quantitative"},"text":{"field":"sig"}}},
{"mark":{"type":"text","text":"h","font":"Liberation Sans","fontSize":26,"fontWeight":"bold","align":"left","baseline":"alphabetic"},"encoding":{"x":{"datum":"AT Single","bandPosition":0.12},"y":{"datum":385.9}}},
{"transform":[{"filter":"false"}],"mark":{"type":"point","filled":true,"color":"black","opacity":1},"encoding":{"shape":{"field":"s","type":"nominal","scale":{"domain":["PB-AL","PB-AM","PB-AH","AH"],"range":["M-1.6,-0.85H1.6V0.85H-1.6Z M-1.28,-0.53V0.53H1.28V-0.53Z","M-1.6,-0.85H1.6V0.85H-1.6Z M-1.28,-0.53V0.53H1.28V-0.53Z","M-1.6,-0.85H1.6V0.85H-1.6Z M-1.28,-0.53V0.53H1.28V-0.53Z","M-1.6,-0.85H1.6V0.85H-1.6Z M-1.28,-0.53V0.53H1.28V-0.53Z M-0.6,-0.85L-0.35,-0.85L-1.25,0.85L-1.5,0.85Z M0.2,-0.85L0.45,-0.85L-0.45,0.85L-0.7,0.85Z M1,-0.85L1.25,-0.85L0.35,0.85L0.1,0.85Z"]},"legend":{"orient":"none","legendX":263.8,"legendY":69.2,"title":null,"symbolSize":88,"labelFont":"Liberation Sans","labelFontSize":10.5,"labelFontWeight":"bold","labelColor":"black","labelOffset":10,"rowPadding":0.3}}}},
{"data":{"name":"doses"},"mark":{"type":"text","font":"Liberation Sans","fontSize":10.5,"fontWeight":"bold","dy":11.5},"encoding":{"x":{"field":"k","type":"nominal"},"y":{"datum":0},"text":{"field":"d"}}},
{"data":{"name":"groups"},"mark":{"type":"rule","color":"black","strokeWidth":1.5,"yOffset":19},"encoding":{"x":{"field":"f","type":"nominal","bandPosition":0.1},"x2":{"field":"l","bandPosition":0.9},"y":{"datum":0}}},
{"data":{"name":"groups"},"mark":{"type":"text","font":"Liberation Sans","fontSize":13.5,"fontWeight":"bold","dy":33},"encoding":{"x":{"field":"f","type":"nominal","bandPosition":1.1},"y":{"datum":0},"text":{"field":"g"}}}
],
"resolve":{"scale":{"shape":"independent"},"legend":{"shape":"independent","fill":"independent"}}}
],
"config": {
"view": {"stroke": null},
"axisX": {"grid": false, "ticks": false, "labelOverlap": false, "domainColor": "#d9d9d9", "labelColor": "#595959", "labelFont": "Lato", "labelFontSize": 8.5, "labelPadding": 9, "titleFont": "Lato", "titleFontSize": 11, "titleFontWeight": "normal", "titleColor": "#595959", "titlePadding": 5},
"axisY": {"grid": false, "ticks": false, "labelOverlap": false, "domainColor": "#d9d9d9", "labelColor": "#595959", "labelFont": "Lato", "labelFontSize": 8.5, "labelPadding": 11, "titleFont": "Lato", "titleFontSize": 9.5, "titleFontWeight": "normal", "titleColor": "#595959", "titlePadding": 3},
"legend": {"padding": 0, "symbolSize": 100, "symbolFillColor": "black", "symbolStrokeColor": "black", "symbolStrokeWidth": 1.5, "labelOffset": 7, "labelFont": "Lato", "labelFontSize": 8.5, "labelFontWeight": "bold", "labelColor": "#262626"}
}
}
